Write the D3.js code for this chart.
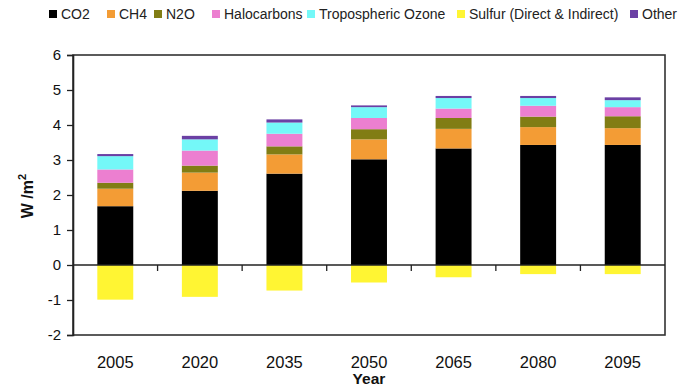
<!DOCTYPE html>
<html>
<head>
<meta charset="utf-8">
<script src="https://cdn.jsdelivr.net/npm/d3@7/dist/d3.min.js"></script>
<style>
  html, body { margin: 0; padding: 0; background: #fff; }
  svg { display: block; font-family: "Liberation Sans", Arial, sans-serif; }
</style>
</head>
<body>
<svg id="chart" width="680" height="385"></svg>
<script>
// Radiative forcing by agent, W/m2
const years = ["2005", "2020", "2035", "2050", "2065", "2080", "2095"];
const co2       = [1.68, 2.12, 2.61, 3.02, 3.33, 3.43, 3.43];
const ch4       = [0.50, 0.52, 0.55, 0.57, 0.56, 0.51, 0.48];
const n2o       = [0.17, 0.20, 0.23, 0.29, 0.31, 0.30, 0.34];
const halocarb  = [0.38, 0.43, 0.36, 0.32, 0.27, 0.31, 0.26];
const tropOzone = [0.38, 0.32, 0.32, 0.31, 0.30, 0.22, 0.20];
const sulfur    = [-0.99, -0.91, -0.73, -0.50, -0.35, -0.26, -0.26];
const other     = [0.06, 0.10, 0.09, 0.05, 0.06, 0.06, 0.08];
const yTicks = [-2, -1, 0, 1, 2, 3, 4, 5, 6];

const seriesNames = ["CO2", "CH4", "N2O", "Halocarbons", "Tropospheric Ozone", "Sulfur (Direct & Indirect)", "Other"];
const seriesValues = [co2, ch4, n2o, halocarb, tropOzone, sulfur, other];
const colors = ["#000000", "#f39c35", "#817d14", "#ec7fd0", "#74f8f8", "#fff533", "#6b40a4"];

// Legend key positions along the top row
const legendX = [49, 107, 154, 212, 307, 457, 630];

const svg = d3.select("#chart");
const L = 73, R = 665, T = 55, B = 335;

const x = d3.scaleBand().domain(years).range([L, R]).paddingInner(0.575).paddingOuter(0.2875);
const y = d3.scaleLinear().domain([-2, 6]).range([B, T]);

// Stack: positives upward from zero, negatives downward
const segs = [];
years.forEach((yr, i) => {
  let pos = 0, neg = 0;
  seriesValues.forEach((vals, s) => {
    const v = vals[i];
    if (v >= 0) { segs.push({ yr, s, y0: pos, y1: pos + v }); pos += v; }
    else { segs.push({ yr, s, y0: neg + v, y1: neg }); neg += v; }
  });
});

svg.append("g").selectAll("rect").data(segs).join("rect")
  .attr("x", d => x(d.yr))
  .attr("width", x.bandwidth())
  .attr("y", d => y(d.y1))
  .attr("height", d => y(d.y0) - y(d.y1))
  .attr("fill", d => colors[d.s]);

// Plot frame
svg.append("rect")
  .attr("x", L).attr("y", T).attr("width", R - L).attr("height", B - T)
  .attr("fill", "none").attr("stroke", "#333").attr("stroke-width", 1.6);

// Y axis
const yAxis = svg.append("g").attr("transform", `translate(${L},0)`)
  .call(d3.axisLeft(y).tickValues(yTicks).tickSize(6).tickPadding(6).tickFormat(d => String(d)));
yAxis.select(".domain").attr("stroke", "#222").attr("stroke-width", 1.6);
yAxis.selectAll(".tick line").attr("stroke", "#222").attr("stroke-width", 1.3);
yAxis.selectAll(".tick text").attr("font-size", 15).attr("fill", "#111")
  .attr("font-family", "Liberation Sans, Arial, sans-serif");

// Zero line with ticks between categories
const boundaries = years.slice(1).map(yr => x(yr) - x.step() * x.paddingInner() / 2);
svg.append("line")
  .attr("x1", L).attr("x2", R).attr("y1", y(0)).attr("y2", y(0))
  .attr("stroke", "#222").attr("stroke-width", 1.6);
svg.append("g").selectAll("line").data(boundaries).join("line")
  .attr("x1", d => d).attr("x2", d => d)
  .attr("y1", y(0)).attr("y2", y(0) + 6)
  .attr("stroke", "#222").attr("stroke-width", 1.3);

// Category labels below the frame
svg.append("g").selectAll("text").data(years).join("text")
  .attr("x", d => x(d) + x.bandwidth() / 2)
  .attr("y", 368)
  .attr("text-anchor", "middle")
  .attr("font-size", 16.5)
  .attr("fill", "#111")
  .text(d => d);

svg.append("text")
  .attr("x", x("2050") + x.bandwidth() / 2).attr("y", 383.5)
  .attr("text-anchor", "middle").attr("font-size", 15.5).attr("font-weight", "bold")
  .attr("fill", "#111").text("Year");

// Y axis title
const yt = svg.append("text")
  .attr("transform", "translate(33,196) rotate(-90)")
  .attr("text-anchor", "middle").attr("font-size", 16).attr("font-weight", "bold")
  .attr("fill", "#111");
yt.append("tspan").text("W /m");
yt.append("tspan").attr("font-size", 11).attr("dy", -7).text("2");

// Legend
const legend = svg.append("g").attr("font-size", 14).attr("fill", "#222");
seriesNames.forEach((name, i) => {
  legend.append("rect").attr("x", legendX[i]).attr("y", 10).attr("width", 8).attr("height", 8).attr("fill", colors[i]);
  legend.append("text").attr("x", legendX[i] + 12).attr("y", 19).text(name);
});
</script>
</body>
</html>
